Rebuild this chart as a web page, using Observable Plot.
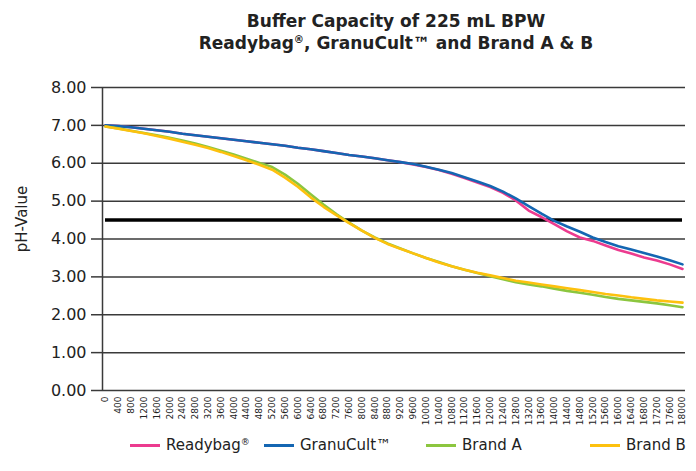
<!DOCTYPE html>
<html>
<head>
<meta charset="utf-8">
<script src="https://cdn.jsdelivr.net/npm/d3@7"></script>
<script src="https://cdn.jsdelivr.net/npm/@observablehq/plot@0.6"></script>
<style>
  html, body { margin: 0; padding: 0; background: #fff; }
  body { width: 696px; height: 471px; overflow: hidden; font-family: "DejaVu Sans", Verdana, sans-serif; color: #222; }
  #title { height: 64px; box-sizing: border-box; padding-top: 10px; padding-left: 96px; text-align: center; font-weight: bold; font-size: 17px; line-height: 22px; color: #222; }
  #chart { height: 366px; }
  #legend { position: relative; height: 41px; font-size: 15px; color: #222; }
  .item { position: absolute; top: 6px; display: flex; align-items: center; white-space: nowrap; }
  .sw { width: 30px; height: 3px; margin-right: 6px; }
  sup { font-size: 60%; vertical-align: 0.55em; line-height: 0; }
</style>
</head>
<body>
<div id="title">Buffer Capacity of 225 mL BPW<br>Readybag<sup>®</sup>, GranuCult™ and Brand A &amp; B</div>
<div id="chart"></div>
<div id="legend"></div>
<script>
const xValues = [0,400,800,1200,1600,2000,2400,2800,3200,3600,4000,4400,4800,5200,5600,6000,6400,6800,7200,7600,8000,8400,8800,9200,9600,10000,10400,10800,11200,11600,12000,12400,12800,13200,13600,14000,14400,14800,15200,15600,16000,16400,16800,17200,17600,18000];
const yTicks = [0,1,2,3,4,5,6,7,8];
const seriesNames = ["Readybag®", "GranuCult™", "Brand A", "Brand B"];
const seriesColors = ["#ec3b8f", "#1466b2", "#8cc63f", "#fdc10e"];
const readybag = [7.00,6.98,6.95,6.91,6.87,6.83,6.78,6.74,6.70,6.66,6.62,6.58,6.54,6.50,6.46,6.41,6.37,6.32,6.27,6.22,6.18,6.13,6.08,6.03,5.97,5.90,5.82,5.72,5.61,5.49,5.37,5.22,5.02,4.75,4.58,4.39,4.20,4.04,3.95,3.83,3.71,3.62,3.51,3.43,3.33,3.21];
const granucult = [7.00,6.98,6.95,6.91,6.87,6.83,6.78,6.74,6.70,6.66,6.62,6.58,6.54,6.50,6.46,6.41,6.37,6.32,6.27,6.22,6.18,6.13,6.08,6.03,5.98,5.91,5.83,5.74,5.63,5.52,5.40,5.25,5.07,4.87,4.67,4.48,4.33,4.19,4.04,3.92,3.81,3.72,3.63,3.54,3.44,3.33];
const brandA = [6.97,6.92,6.86,6.80,6.74,6.67,6.60,6.52,6.43,6.33,6.23,6.12,6.01,5.90,5.70,5.46,5.18,4.91,4.66,4.43,4.22,4.04,3.88,3.75,3.62,3.50,3.39,3.28,3.19,3.10,3.02,2.94,2.86,2.80,2.75,2.69,2.63,2.58,2.53,2.47,2.42,2.38,2.34,2.30,2.25,2.20];
const brandB = [6.97,6.91,6.85,6.79,6.72,6.65,6.57,6.49,6.40,6.30,6.19,6.08,5.96,5.83,5.62,5.38,5.10,4.85,4.63,4.42,4.22,4.03,3.87,3.74,3.62,3.50,3.38,3.28,3.19,3.11,3.04,2.97,2.90,2.85,2.80,2.75,2.70,2.65,2.60,2.55,2.51,2.46,2.42,2.38,2.35,2.32];
const threshold = 4.5;
const yLabel = "pH-Value";

const seriesValues = [readybag, granucult, brandA, brandB];
const rows = seriesValues.flatMap((vals, i) => vals.map((v, j) => ({x: xValues[j], y: v, series: seriesNames[i]})));

const plot = Plot.plot({
  width: 696,
  height: 366,
  marginTop: 23,
  marginLeft: 102,
  marginRight: 11,
  marginBottom: 40,
  insetLeft: 3,
  insetRight: 3,
  style: {fontFamily: "DejaVu Sans, Verdana, sans-serif", color: "#222", background: "white"},
  x: {type: "linear", domain: [xValues[0], xValues[xValues.length - 1]]},
  y: {domain: [0, 8]},
  color: {domain: seriesNames, range: seriesColors},
  marks: [
    Plot.gridY(yTicks, {stroke: "#3a3a3a", strokeOpacity: 1, strokeWidth: 1.5}),
    Plot.ruleX([xValues[0]], {dx: -3, stroke: "#3a3a3a", strokeWidth: 1.5}),
    Plot.axisY(yTicks, {tickSize: 11, tickPadding: 5, tickFormat: d3.format(".2f"), fontSize: 16, stroke: "#3a3a3a", strokeWidth: 1.5, label: null, style: "letter-spacing:0.4px"}),
    Plot.axisX(xValues, {tickRotate: -90, tickSize: 0, tickPadding: 6, fontSize: 9, tickFormat: d => String(d), label: null}),
    Plot.ruleY([threshold], {x1: xValues[0], x2: xValues[xValues.length - 1], stroke: "black", strokeWidth: 3.5}),
    Plot.line(rows, {x: "x", y: "y", z: "series", stroke: "series", strokeWidth: 2.6}),
    Plot.text([yLabel], {frameAnchor: "left", textAnchor: "middle", dx: -80, dy: -20, rotate: -90, fontSize: 15, fill: "#222"})
  ]
});
document.getElementById("chart").appendChild(plot);

const legend = document.getElementById("legend");
const legendLefts = [130, 264, 426, 590];
seriesNames.forEach((name, i) => {
  const item = document.createElement("div");
  item.className = "item";
  item.style.left = legendLefts[i] + "px";
  const sw = document.createElement("span");
  sw.className = "sw";
  sw.style.background = seriesColors[i];
  const label = document.createElement("span");
  if (name.endsWith("®")) {
    label.innerHTML = name.slice(0, -1) + "<sup>®</sup>";
  } else {
    label.textContent = name;
  }
  item.appendChild(sw);
  item.appendChild(label);
  legend.appendChild(item);
});
</script>
</body>
</html>
